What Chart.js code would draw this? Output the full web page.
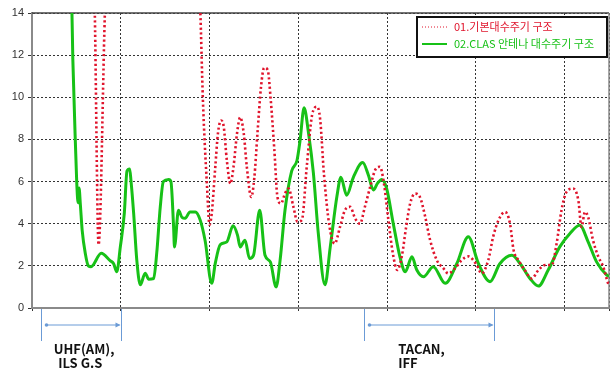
<!DOCTYPE html>
<html>
<head>
<meta charset="utf-8">
<script src="https://cdn.jsdelivr.net/npm/chart.js@4/dist/chart.umd.min.js"></script>
<style>
  html, body { margin: 0; padding: 0; background: #fff; }
</style>
</head>
<body>
<canvas id="graphCanvas" width="612" height="368"></canvas>
<script>
// data (x = frequency, MHz)
const yTicks = [0, 2, 4, 6, 8, 10, 12, 14];

const freqBasic = [200, 330, 341, 350, 365, 380, 565, 579, 585, 594, 600, 605, 613, 619, 626, 632, 639, 647, 654, 662, 669, 677, 684, 694, 701, 708, 716, 723, 731, 738, 746, 753, 761, 770, 778, 789, 798, 808, 819, 831, 842, 849, 858, 870, 882, 894, 905, 917, 928, 939, 950, 962, 973, 984, 993, 1003, 1013, 1023, 1033, 1043, 1052, 1063, 1074, 1086, 1097, 1112, 1127, 1138, 1153, 1168, 1183, 1202, 1213, 1228, 1239, 1251, 1266, 1277, 1285, 1296, 1310, 1326, 1341, 1356, 1371, 1382, 1393, 1404, 1419, 1431, 1438, 1446, 1453, 1464, 1476, 1487, 1498, 1500];
const valBasic = [20, 20, 14.5, 3.0, 14.5, 20, 20, 14.2, 9.9, 5.9, 3.95, 4.5, 6.7, 8.3, 8.9, 8.6, 7.0, 5.9, 6.7, 8.3, 9.05, 8.3, 6.7, 5.27, 6.2, 8.3, 10.5, 11.4, 11.3, 9.85, 7.5, 5.27, 4.96, 5.43, 5.67, 4.8, 4.1, 4.17, 6.7, 9.15, 9.55, 9.0, 6.3, 3.9, 3.06, 3.85, 4.64, 4.8, 4.25, 4.0, 4.8, 5.75, 6.54, 6.7, 5.9, 4.17, 2.59, 1.8, 2.43, 3.85, 4.96, 5.43, 5.27, 4.32, 3.22, 2.27, 1.88, 1.64, 1.88, 2.27, 2.45, 2.04, 1.64, 2.27, 3.38, 4.17, 4.56, 4.0, 2.75, 2.27, 1.8, 1.4, 1.8, 2.04, 2.04, 3.06, 4.64, 5.5, 5.67, 5.1, 3.85, 4.56, 4.32, 3.22, 2.43, 1.96, 1.17, 1.1];

const freqClas = [285, 290, 292, 297, 304, 306, 309, 313, 320, 327, 333, 356, 376, 384, 391, 399, 408, 414, 420, 423, 429, 436, 444, 455, 463, 474, 481, 489, 496, 508, 513, 519, 521, 530, 538, 545, 556, 568, 579, 590, 605, 613, 624, 639, 653, 663, 669, 680, 690, 699, 713, 725, 737, 750, 759, 770, 785, 797, 804, 813, 823, 834, 845, 860, 872, 887, 896, 909, 924, 945, 958, 969, 978, 988, 999, 1014, 1029, 1041, 1056, 1067, 1082, 1104, 1131, 1157, 1183, 1206, 1232, 1254, 1281, 1300, 1322, 1341, 1363, 1389, 1412, 1434, 1453, 1472, 1495, 1500];
const valClas = [16, 14, 11.8, 8.3, 5.0, 5.7, 4.9, 3.7, 2.6, 2.0, 1.96, 2.6, 2.25, 2.1, 1.72, 2.9, 4.5, 6.5, 6.6, 6.05, 4.5, 2.3, 1.1, 1.65, 1.37, 1.4, 2.6, 4.8, 6.0, 6.1, 6.0, 3.85, 2.9, 4.64, 4.3, 4.26, 4.56, 4.56, 4.17, 3.2, 1.17, 2.13, 3.0, 3.14, 3.9, 3.46, 2.9, 3.22, 2.35, 2.5, 4.64, 2.5, 2.19, 1.0, 2.27, 4.64, 6.5, 7.0, 7.96, 9.5, 8.3, 6.4, 3.55, 1.1, 2.9, 5.3, 6.2, 5.35, 6.2, 6.9, 6.3, 5.6, 5.9, 6.1, 5.67, 4.0, 2.43, 1.72, 2.43, 1.8, 1.48, 1.96, 1.17, 2.1, 3.38, 2.1, 1.25, 2.1, 2.5, 2.1, 1.4, 1.04, 1.8, 2.9, 3.54, 3.93, 3.14, 2.19, 1.56, 1.5];

const seriesNames = ['01.기본대수주기 구조', '02.CLAS 안테나 대수주기 구조'];
const seriesColors = ['#e0142c', '#17c117'];

// band markers under the axis
const bandStart = [220, 948];
const bandEnd = [400, 1240];
const bandLabelAt = [[249, 259], [1025, 1025]];
const bandLabels = [['UHF(AM),', 'ILS G.S'], ['TACAN,', 'IFF']];

const toPoints = (xs, ys) => xs.map((x, i) => ({ x: x, y: ys[i] }));

const extras = {
  id: 'extras',
  beforeDatasetsDraw(chart) {
    const { ctx, chartArea: a } = chart;
    ctx.save();
    ctx.strokeStyle = '#444';
    ctx.lineWidth = 1.5;
    ctx.beginPath();
    ctx.moveTo(a.left, a.top);
    ctx.lineTo(a.right, a.top);
    ctx.stroke();
    ctx.strokeStyle = '#8a8a8a';
    ctx.beginPath();
    ctx.moveTo(a.right, a.top);
    ctx.lineTo(a.right, a.bottom);
    ctx.stroke();
    ctx.restore();
  },
  afterDraw(chart) {
    const { ctx, chartArea: a } = chart;
    const xs = chart.scales.x;
    ctx.save();

    // legend box
    const lx = a.right - 192, ly = a.top + 4, lw = 190, lh = 40;
    ctx.fillStyle = '#fff';
    ctx.fillRect(lx, ly, lw, lh);
    ctx.strokeStyle = '#111';
    ctx.lineWidth = 2;
    ctx.strokeRect(lx, ly, lw, lh);
    ctx.font = '11px "Noto Sans CJK KR", sans-serif';
    ctx.textBaseline = 'middle';
    for (let i = 0; i < 2; i++) {
      const yy = ly + 10 + i * 17;
      ctx.strokeStyle = seriesColors[i];
      ctx.lineWidth = i === 0 ? 1 : 2;
      ctx.setLineDash(i === 0 ? [1, 2] : []);
      ctx.beginPath();
      ctx.moveTo(lx + 5, yy);
      ctx.lineTo(lx + 30, yy);
      ctx.stroke();
      ctx.setLineDash([]);
      ctx.fillStyle = seriesColors[i];
      ctx.fillText(seriesNames[i], lx + 37, yy);
    }

    // bands
    ctx.strokeStyle = '#6b9bd6';
    ctx.fillStyle = '#6b9bd6';
    ctx.lineWidth = 1;
    const ay = a.bottom + 17;
    bandStart.forEach((f0, i) => {
      const x0 = Math.round(xs.getPixelForValue(f0)) + 0.5;
      const x1 = Math.round(xs.getPixelForValue(bandEnd[i])) + 0.5;
      ctx.beginPath();
      ctx.moveTo(x0, a.bottom + 1); ctx.lineTo(x0, a.bottom + 33);
      ctx.moveTo(x1, a.bottom + 1); ctx.lineTo(x1, a.bottom + 33);
      ctx.moveTo(x0 + 5, ay); ctx.lineTo(x1 - 2, ay);
      ctx.stroke();
      ctx.beginPath();
      ctx.arc(x0 + 5, ay, 1.8, 0, Math.PI * 2);
      ctx.fill();
      ctx.beginPath();
      ctx.moveTo(x1 - 1, ay);
      ctx.lineTo(x1 - 6, ay - 2.5);
      ctx.lineTo(x1 - 6, ay + 2.5);
      ctx.closePath();
      ctx.fill();
    });
    ctx.fillStyle = '#111';
    ctx.font = 'bold 13px "Noto Sans CJK KR", sans-serif';
    ctx.textBaseline = 'alphabetic';
    bandLabels.forEach((lines, i) => {
      lines.forEach((t, j) => {
        ctx.fillText(t, xs.getPixelForValue(bandLabelAt[i][j]), a.bottom + 46 + j * 13.5);
      });
    });
    ctx.restore();
  }
};

new Chart(document.getElementById('graphCanvas'), {
  type: 'line',
  data: {
    datasets: [
      {
        label: seriesNames[0],
        data: toPoints(freqBasic, valBasic),
        borderColor: seriesColors[0],
        borderWidth: 2.6,
        borderDash: [2.2, 2.6],
        pointRadius: 0,
        cubicInterpolationMode: 'monotone'
      },
      {
        label: seriesNames[1],
        data: toPoints(freqClas, valClas),
        borderColor: seriesColors[1],
        borderWidth: 3,
        pointRadius: 0,
        cubicInterpolationMode: 'monotone'
      }
    ]
  },
  options: {
    responsive: false,
    animation: false,
    devicePixelRatio: 1,
    layout: { padding: { top: 13, right: 3, left: 0, bottom: 0 } },
    plugins: { legend: { display: false }, tooltip: { enabled: false } },
    scales: {
      x: {
        type: 'linear',
        min: 200,
        max: 1500,
        afterFit: s => { s.height = 60; },
        ticks: { stepSize: 200, callback: () => '' },
        border: { display: true, color: '#8a8a8a', width: 2, dash: [2, 2] },
        grid: { color: '#333', lineWidth: 1, tickLength: 4, tickBorderDash: [2, 2] }
      },
      y: {
        min: 0,
        max: 14,
        afterFit: s => { s.width = 32; },
        afterBuildTicks: s => { s.ticks = yTicks.map(v => ({ value: v })); },
        ticks: { color: '#333', padding: 4, font: { family: 'Liberation Sans', size: 11 } },
        border: { display: true, color: '#8a8a8a', width: 2, dash: [2, 2] },
        grid: { color: '#333', lineWidth: 1, tickLength: 4, tickBorderDash: [] }
      }
    }
  },
  plugins: [extras]
});
</script>
</body>
</html>
